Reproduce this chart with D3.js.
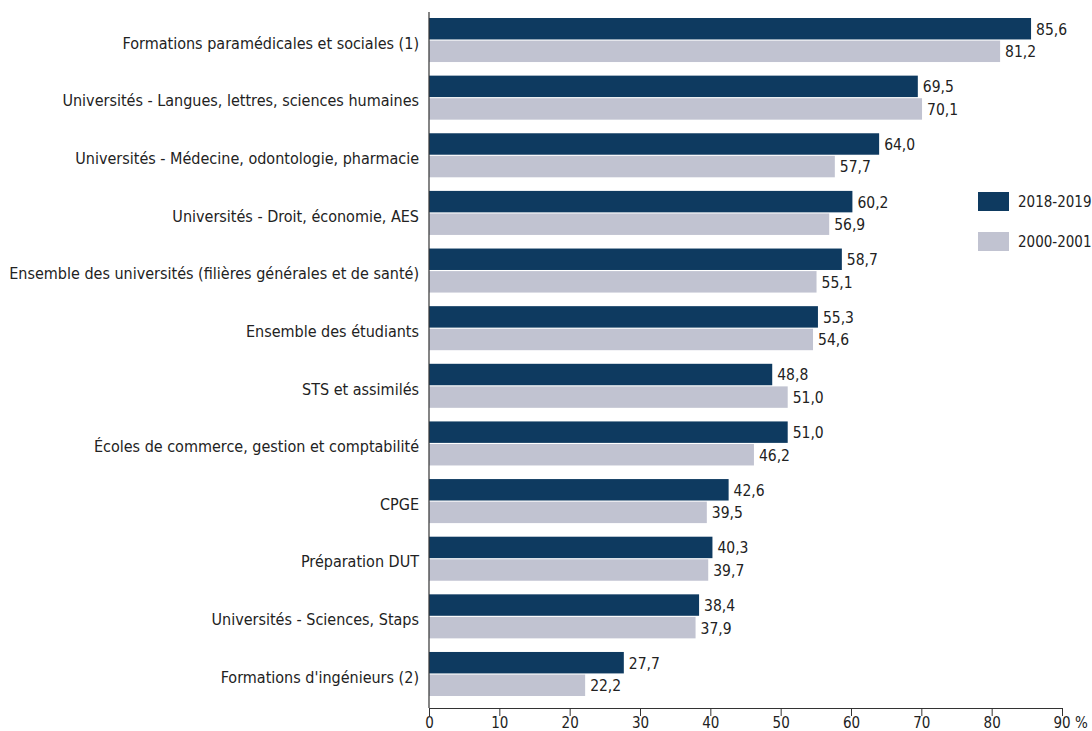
<!DOCTYPE html>
<html>
<head>
<meta charset="utf-8">
<script src="https://cdn.jsdelivr.net/npm/d3@7"></script>
<style>
  body { margin: 0; background: #fff; }
  text { font-family: "Liberation Sans Narrow", "DejaVu Sans Condensed", "Roboto Condensed", sans-serif; fill: #222; }
</style>
</head>
<body>
<div id="chart"></div>
<script>
const categories = [
  "Formations paramédicales et sociales (1)",
  "Universités - Langues, lettres, sciences humaines",
  "Universités - Médecine, odontologie, pharmacie",
  "Universités - Droit, économie, AES",
  "Ensemble des universités (filières générales et de santé)",
  "Ensemble des étudiants",
  "STS et assimilés",
  "Écoles de commerce, gestion et comptabilité",
  "CPGE",
  "Préparation DUT",
  "Universités - Sciences, Staps",
  "Formations d'ingénieurs (2)"
];
const values2018 = [85.6, 69.5, 64.0, 60.2, 58.7, 55.3, 48.8, 51.0, 42.6, 40.3, 38.4, 27.7];
const values2000 = [81.2, 70.1, 57.7, 56.9, 55.1, 54.6, 51.0, 46.2, 39.5, 39.7, 37.9, 22.2];
const seriesNames = ["2018-2019", "2000-2001"];
const ticks = [0, 10, 20, 30, 40, 50, 60, 70, 80, 90];

const colors = ["#0e3a60", "#c1c3d1"];
const width = 1092, height = 731;
const axisTop = 12, axisY = 708;

const svg = d3.select("#chart").append("svg")
  .attr("width", width)
  .attr("height", height);

const x = d3.scaleLinear()
  .domain([0, 90])
  .range([429, 1062]);

const y = d3.scaleBand()
  .domain(categories)
  .range([18, 696])
  .paddingInner(0.236)
  .paddingOuter(0);

const sub = d3.scaleBand()
  .domain(seriesNames)
  .range([0, y.bandwidth()])
  .paddingInner(0.05);

const rows = categories.map((c, i) => ({cat: c, vals: [values2018[i], values2000[i]]}));

const g = svg.append("g");
rows.forEach(r => {
  r.vals.forEach((v, j) => {
    const yy = y(r.cat) + sub(seriesNames[j]);
    g.append("rect")
      .attr("x", x(0))
      .attr("y", yy)
      .attr("width", x(v) - x(0))
      .attr("height", sub.bandwidth())
      .attr("fill", colors[j]);
    g.append("text")
      .attr("x", x(v) + 5)
      .attr("y", yy + sub.bandwidth() / 2)
      .attr("dy", "0.38em")
      .style("font-size", "15.5px")
      .text(d3.format(".1f")(v).replace(".", ","));
  });
});

// category labels
svg.append("g")
  .selectAll("text")
  .data(categories)
  .join("text")
    .attr("x", 419)
    .attr("y", d => y(d) + y.bandwidth() / 2 + 3)
    .attr("dy", "0.36em")
    .attr("text-anchor", "end")
    .style("font-size", "16px")
    .text(d => d);

// y axis line
svg.append("line")
  .attr("x1", x(0)).attr("x2", x(0))
  .attr("y1", axisTop).attr("y2", axisY)
  .attr("stroke", "#333").attr("stroke-width", 1.2);

// x axis
const xAxis = svg.append("g")
  .attr("transform", `translate(0,${axisY})`)
  .call(d3.axisBottom(x).tickValues(ticks).tickSize(8).tickSizeOuter(0)
    .tickFormat(d => d === 90 ? "90 %" : d));
xAxis.select(".domain").attr("stroke", "#333").attr("stroke-width", 1.2);
xAxis.selectAll(".tick line").attr("stroke", "#333");
xAxis.selectAll(".tick text")
  .attr("y", 9)
  .style("font-size", "15px")
  .attr("fill", "#222")
  .attr("text-anchor", d => d === 90 ? "start" : "middle")
  .attr("dx", d => d === 90 ? "-0.6em" : 0);

// legend
const legend = svg.append("g");
seriesNames.forEach((s, j) => {
  legend.append("rect")
    .attr("x", 978).attr("y", 192 + j * 40)
    .attr("width", 31).attr("height", 19)
    .attr("fill", colors[j]);
  legend.append("text")
    .attr("x", 1018).attr("y", 192 + j * 40 + 10)
    .attr("dy", "0.36em")
    .style("font-size", "15px")
    .text(s);
});
</script>
</body>
</html>
